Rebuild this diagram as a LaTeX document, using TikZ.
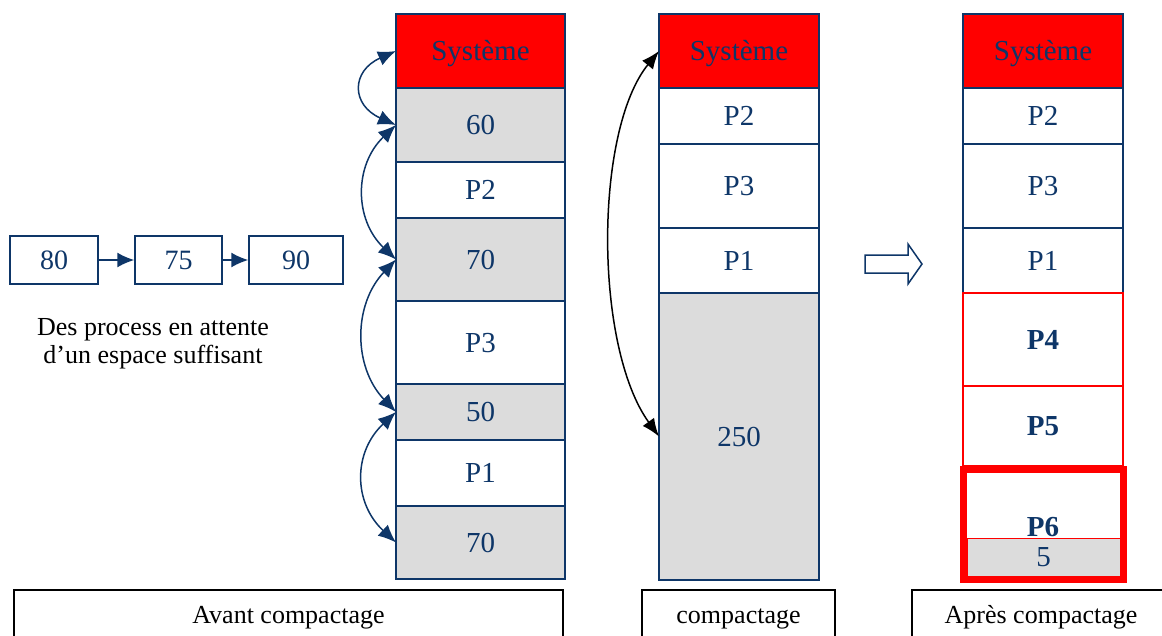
\documentclass[tikz,border=0pt]{standalone}
\usepackage{fontspec}
\setmainfont{Liberation Serif}
\usetikzlibrary{arrows.meta}
\definecolor{dblue}{RGB}{14,54,104}
\definecolor{cellgray}{RGB}{220,220,220}
\begin{document}
\begin{tikzpicture}[x=1pt,y=-1pt,
  cell/.style={draw=dblue, line width=1.5pt, text=dblue, inner sep=0pt, outer sep=0pt,
    text height=19pt, text depth=0pt, font=\fontsize{29}{34}\selectfont},
  col1/.style={cell, minimum width=169pt},
  col2/.style={cell, minimum width=160pt},
  sys/.style={fill=red},
  free/.style={fill=cellgray},
  newp/.style={cell, draw=red, line width=1.2pt, minimum width=160pt, font=\fontsize{29}{34}\selectfont\bfseries},
  qbox/.style={draw=dblue, line width=1.5pt, text=dblue, inner sep=0pt, text height=19pt, text depth=0pt,
    minimum height=48pt, font=\fontsize{28}{32}\selectfont},
  capbox/.style={draw=black, line width=1.5pt, inner sep=0pt, minimum height=50pt,
    text height=17pt, text depth=0pt, font=\fontsize{26}{30}\selectfont},
  barrow/.style={{Latex[length=18pt,width=15pt]}-{Latex[length=18pt,width=15pt]}, draw=dblue, line width=1.5pt},
  karrow/.style={{Latex[length=18pt,width=14pt]}-{Latex[length=18pt,width=14pt]}, draw=black, line width=1.5pt},
  qarrow/.style={-{Latex[length=17pt,width=15pt]}, draw=dblue, line width=1.5pt}
]
\clip (0,0) rectangle (1162,635);

% ---------- column 1 : avant compactage ----------
\node[col1, sys, minimum height=74pt] (a1) at (480.5,51) {Système};
\node[col1, free, minimum height=74pt] (a2) at (480.5,125) {60};
\node[col1, minimum height=56pt] (a3) at (480.5,190) {P2};
\node[col1, free, minimum height=83pt] (a4) at (480.5,259.5) {70};
\node[col1, minimum height=83pt] (a5) at (480.5,342.5) {P3};
\node[col1, free, minimum height=56pt] (a6) at (480.5,412) {50};
\node[col1, minimum height=66pt] (a7) at (480.5,473) {P1};
\node[col1, free, minimum height=73pt] (a8) at (480.5,542.5) {70};

\draw[barrow] (a1.west) .. controls +(-45,20) and +(-45,-20) .. (a2.west);
\draw[barrow] (a2.west) .. controls +(-42,40) and +(-42,-40) .. (a4.west);
\draw[barrow] (a4.west) .. controls +(-43,45) and +(-43,-45) .. (a6.west);
\draw[barrow] (a6.west) .. controls +(-43,40) and +(-43,-40) .. (a8.west);

% ---------- waiting queue ----------
\node[qbox, minimum width=88pt] (q1) at (54,260) {80};
\node[qbox, minimum width=87pt] (q2) at (178.5,260) {75};
\node[qbox, minimum width=94pt] (q3) at (296,260) {90};
\draw[qarrow] (q1.east) -- (q2.west);
\draw[qarrow] (q2.east) -- (q3.west);
\node[align=center, font=\fontsize{26}{28}\selectfont, inner sep=0pt] (qtxt) at (153,344)
  {Des process en attente\\d’un espace suffisant};

% ---------- column 2 : compactage ----------
\node[col2, sys, minimum height=74pt] (b1) at (739,51) {Système};
\node[col2, minimum height=56pt] (b2) at (739,116) {P2};
\node[col2, minimum height=84pt] (b3) at (739,186) {P3};
\node[col2, minimum height=65pt] (b4) at (739,260.5) {P1};
\node[col2, free, minimum height=287pt] (b5) at (739,436.5) {250};
\draw[karrow] (b1.west) .. controls +(-65,80) and +(-65,-90) .. (b5.west);

% ---------- hollow arrow ----------
\draw[draw=dblue, line width=1.5pt, fill=white]
  (865,255) -- (908,255) -- (908,244) -- (922,264) -- (908,284) -- (908,273) -- (865,273) -- cycle;

% ---------- column 3 : apres compactage ----------
\node[col2, sys, minimum height=74pt] (c1) at (1043,51) {Système};
\node[col2, minimum height=56pt] (c2) at (1043,116) {P2};
\node[col2, minimum height=84pt] (c3) at (1043,186) {P3};
\node[col2, minimum height=65pt] (c4) at (1043,260.5) {P1};
\node[newp, minimum height=93pt] (c5) at (1043,339.5) {P4};
\node[newp, minimum height=80pt] (c6) at (1043,426) {P5};
\node[cell, draw=red, line width=1pt, fill=cellgray, minimum width=153pt, minimum height=38pt,
  font=\fontsize{29}{34}\selectfont] (c8) at (1043.5,557) {5};
\node[cell, draw=none, anchor=base, font=\fontsize{29}{34}\selectfont\bfseries] (c7) at (1043,536) {P6};
\draw[red, line width=7pt] (963.5,469.5) rectangle (1123.5,579.5);

% ---------- captions ----------
\node[capbox, minimum width=549pt] (cap1) at (288.5,615) {Avant compactage};
\node[capbox, minimum width=193pt] (cap2) at (738.5,615) {compactage};
\node[capbox, minimum width=258pt] (cap3) at (1041,615) {Après compactage};
\end{tikzpicture}
\end{document}
